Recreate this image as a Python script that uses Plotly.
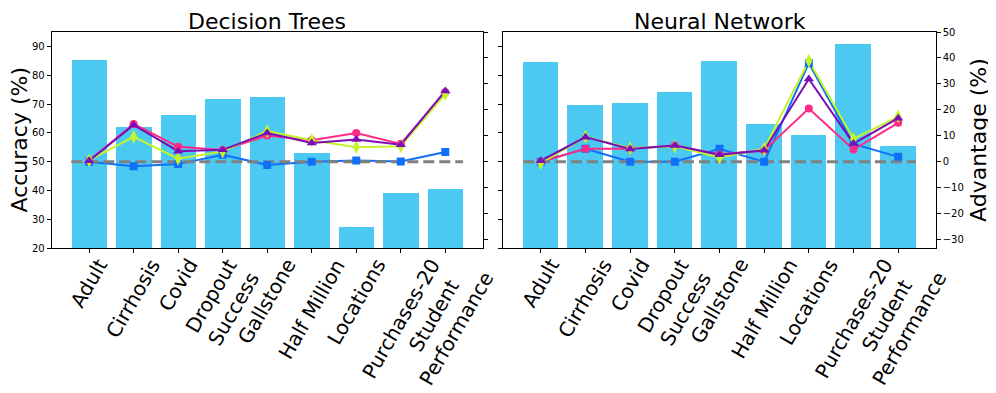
import plotly.graph_objects as go

# datasets on the x axis
categories = ["Adult", "Cirrhosis", "Covid", "Dropout<br>Success", "Gallstone",
              "Half Million", "Locations", "Purchases-20", "Student<br>Performance"]

# accuracy (%) -> bars, left axis
dt_accuracy = [85.4, 62.2, 66.1, 71.7, 72.6, 53.1, 27.3, 39.1, 40.6]
nn_accuracy = [84.5, 69.8, 70.4, 74.3, 85.1, 63.0, 59.3, 91.0, 55.5]

# advantage (%) -> lines, right axis
dt_blue = [0.0, -1.7, -0.9, 2.7, -1.2, 0.0, 0.5, 0.1, 3.8]
dt_pink = [0.4, 14.6, 5.8, 4.5, 10.1, 8.3, 11.1, 6.9, 26.8]
dt_green = [0.6, 9.6, 1.2, 4.0, 11.8, 8.3, 5.6, 6.0, 26.1]
dt_purple = [0.4, 14.2, 4.1, 4.6, 11.1, 7.2, 8.6, 6.6, 27.3]

nn_blue = [0.0, 5.0, 0.0, 0.0, 5.0, 0.0, 38.0, 6.9, 1.9]
nn_pink = [0.0, 5.0, 5.0, 6.3, 2.8, 4.4, 20.5, 4.7, 15.0]
nn_green = [-0.5, 9.6, 5.2, 6.0, 1.7, 5.0, 38.9, 8.8, 17.4]
nn_purple = [0.4, 9.5, 4.9, 6.3, 2.7, 4.4, 31.9, 7.0, 16.8]

baseline = [0, 0]
baseline_x = [-0.4, 8.4]

bar_color = "#4CC9F0"
series_style = [("#1170F8", "square", 8), ("#FF2A85", "circle", 8),
                ("#C3F52A", "diamond-tall", 10), ("#7A0DB5", "triangle-up", 9)]

FONT = "DejaVu Sans"
xs = list(range(len(categories)))

# page has an 8px body margin, so the figure is 988x385 and sits at (8, 8)
W, H = 988, 385


def px(x):
    return (x - 8) / W


def py(y):
    return 1 - (y - 8) / H


fig = go.Figure()

panels = [
    ("x", "y", "y2", dt_accuracy, [dt_blue, dt_pink, dt_green, dt_purple]),
    ("x2", "y3", "y4", nn_accuracy, [nn_blue, nn_pink, nn_green, nn_purple]),
]

for xa, ya, ya2, acc, adv in panels:
    fig.add_trace(go.Bar(x=xs, y=acc, width=0.8, marker=dict(color=bar_color, line=dict(width=0)),
                         xaxis=xa, yaxis=ya, showlegend=False))
    # lines under the dashed baseline, markers on top
    for vals, (col, sym, sz) in zip(adv, series_style):
        fig.add_trace(go.Scatter(x=xs, y=vals, mode="lines", line=dict(color=col, width=2),
                                 xaxis=xa, yaxis=ya2, showlegend=False))
    fig.add_trace(go.Scatter(x=baseline_x, y=baseline, mode="lines",
                             line=dict(color="#808080", width=3, dash="11px,5px"),
                             xaxis=xa, yaxis=ya2, showlegend=False))
    for vals, (col, sym, sz) in zip(adv, series_style):
        fig.add_trace(go.Scatter(x=xs, y=vals, mode="markers",
                                 marker=dict(color=col, symbol=sym, size=sz, line=dict(width=0)),
                                 xaxis=xa, yaxis=ya2, showlegend=False))

ydom = [py(248.3), py(32)]
axis_common = dict(showline=True, linecolor="black", linewidth=1, ticks="outside",
                   ticklen=4, tickcolor="black", showgrid=False, zeroline=False,
                   tickfont=dict(family=FONT, size=10, color="black"))

x_common = dict(axis_common, range=[-0.84, 8.84], tickvals=xs, showticklabels=False, mirror=True)
fig.update_layout(
    xaxis=dict(x_common, domain=[px(51.7), px(482.7)], anchor="y"),
    xaxis2=dict(x_common, domain=[px(503.3), px(935.7)], anchor="y3"),
    yaxis=dict(axis_common, domain=ydom, range=[20, 95], dtick=10, anchor="x"),
    yaxis2=dict(axis_common, range=[-33.33, 50], dtick=10, overlaying="y", side="right",
                anchor="x", showticklabels=False),
    yaxis3=dict(axis_common, domain=ydom, range=[20, 95], dtick=10, anchor="x2",
                showticklabels=False),
    yaxis4=dict(axis_common, range=[-33.33, 50], dtick=10, overlaying="y3", side="right",
                anchor="x2"),
    width=W, height=H,
    margin=dict(l=0, r=0, t=0, b=0, autoexpand=False),
    paper_bgcolor="white", plot_bgcolor="white",
    bargap=0,
)

# category labels, rotated like matplotlib (centered under the tick)
for xa in ["x", "x2"]:
    for i, name in enumerate(categories):
        fig.add_annotation(x=i, y=py(252), xref=xa, yref="paper", text=name,
                           textangle=-60, showarrow=False, xanchor="center", yanchor="top",
                           font=dict(family=FONT, size=20, color="black"))

# titles
for cx, title in [(267, "Decision Trees"), (720, "Neural Network")]:
    fig.add_annotation(x=px(cx), y=py(8), xref="paper", yref="paper", text=title,
                       showarrow=False, xanchor="center", yanchor="top", borderpad=0,
                       font=dict(family=FONT, size=22, color="black"))
fig.add_annotation(x=px(18.5), y=py(140), xref="paper", yref="paper", text="Accuracy (%)",
                   textangle=-90, showarrow=False, xanchor="center", yanchor="middle",
                   font=dict(family=FONT, size=22, color="black"))
fig.add_annotation(x=px(978), y=py(140), xref="paper", yref="paper", text="Advantage (%)",
                   textangle=-90, showarrow=False, xanchor="center", yanchor="middle",
                   font=dict(family=FONT, size=22, color="black"))

fig.write_html("out.html")
